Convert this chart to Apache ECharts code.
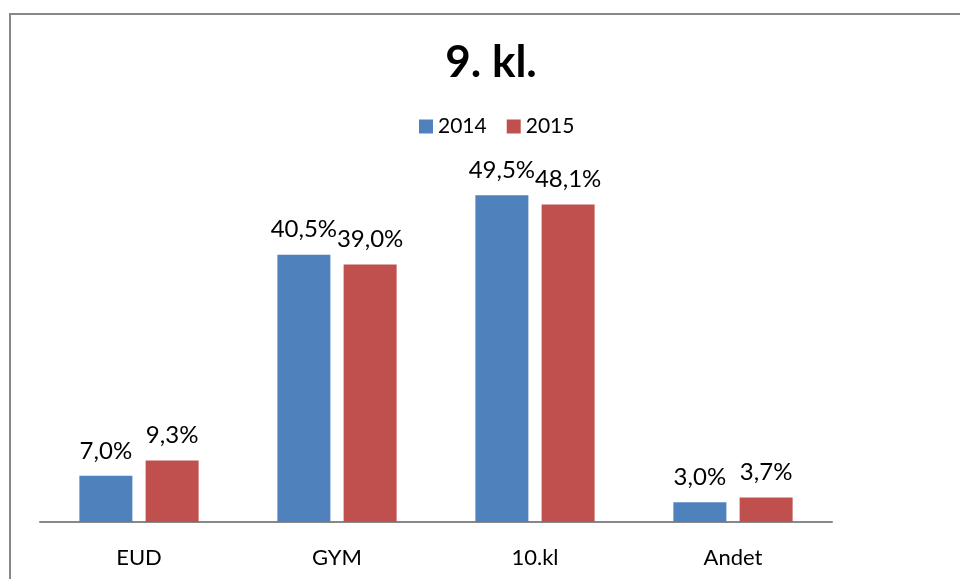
<!DOCTYPE html>
<html>
<head>
<meta charset="utf-8">
<script src="https://cdn.jsdelivr.net/npm/echarts@6/dist/echarts.min.js"></script>
<style>
    html, body { margin: 0; padding: 0; background: #fff; }
    #chart { width: 960px; height: 579px; }
</style>
</head>
<body>
<div id="chart"></div>
<script>
const categories = ['EUD', 'GYM', '10.kl', 'Andet'];
const seriesNames = ['2014', '2015'];
const values2014 = [7.0, 40.5, 49.5, 3.0];
const values2015 = [9.3, 39.0, 48.1, 3.7];

let myChart = echarts.init(document.getElementById('chart'));
const font = 'Lato, "Open Sans", sans-serif';

// 数值标签：小数点用逗号
const fmt = function (p) {
    return p.value.toFixed(1).replace('.', ',') + '%';
};

const option = {
    color: ['#4F81BD', '#C0504D'],
    animation: false,
    textStyle: { fontFamily: font },
    graphic: [{
        type: 'rect',
        shape: { x: 10, y: 14, width: 1000, height: 1000 },
        style: { fill: 'none', stroke: '#888888', lineWidth: 2 },
        silent: true
    }],
    title: {
        text: '9. kl.',
        left: 486,
        top: 36,
        textAlign: 'center',
        textStyle: { fontSize: 44, fontWeight: 'bold', color: '#000', fontFamily: font }
    },
    legend: {
        data: seriesNames,
        left: 414,
        top: 111,
        itemWidth: 14,
        itemHeight: 14,
        itemGap: 20,
        icon: 'rect',
        textStyle: { fontSize: 21, color: '#000', fontFamily: font }
    },
    grid: { left: 40, right: 128, top: 126, bottom: 57, containLabel: false },
    xAxis: {
        type: 'category',
        data: categories,
        axisLine: { lineStyle: { color: '#888888', width: 2 } },
        axisTick: { show: false },
        axisLabel: { fontSize: 22, color: '#000', margin: 25, fontFamily: font }
    },
    yAxis: {
        type: 'value',
        min: 0,
        max: 60,
        show: false,
        splitLine: { show: false }
    },
    series: [
        {
            name: seriesNames[0],
            type: 'bar',
            data: values2014,
            barWidth: 53,
            barGap: '25%',
            label: { show: true, position: 'top', distance: 13, formatter: fmt, fontSize: 24, color: '#000', fontFamily: font }
        },
        {
            name: seriesNames[1],
            type: 'bar',
            data: values2015,
            barWidth: 53,
            barGap: '25%',
            label: { show: true, position: 'top', distance: 13, formatter: fmt, fontSize: 24, color: '#000', fontFamily: font }
        }
    ]
};
myChart.setOption(option);
</script>
</body>
</html>
